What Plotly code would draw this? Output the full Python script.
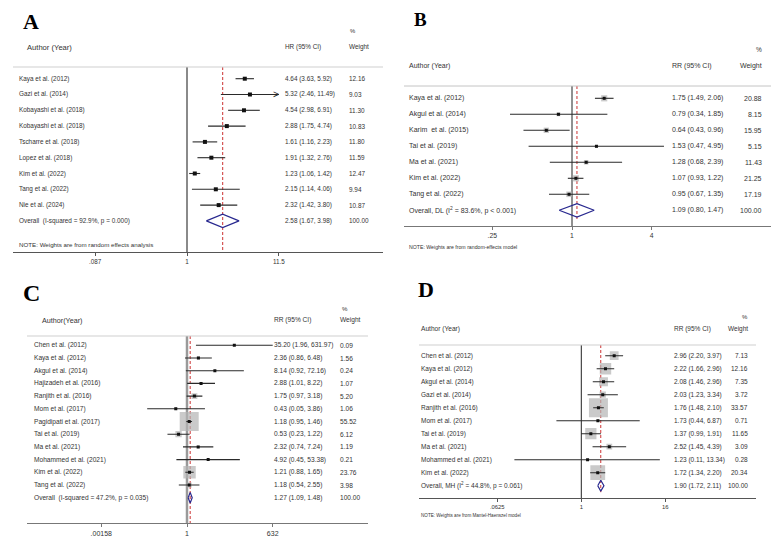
import math
import plotly.graph_objects as go

W, H = 782, 552

# ---------------- DATA ----------------
a_studies = ["Kaya et al. (2012)", "Gazi et al. (2014)", "Kobayashi et al. (2018)", "Kobayashi et al. (2018)",
             "Tscharre et al. (2018)", "Lopez et al. (2018)", "Kim et al. (2022)", "Tang et al. (2022)", "Nie et al. (2024)"]
a_est = [4.64, 5.32, 4.54, 2.88, 1.61, 1.91, 1.23, 2.15, 2.32]
a_lo = [3.63, 2.46, 2.98, 1.75, 1.16, 1.32, 1.06, 1.14, 1.42]
a_hi = [5.92, 11.49, 6.91, 4.74, 2.23, 2.76, 1.42, 4.06, 3.80]
a_wt = [12.16, 9.03, 11.30, 10.83, 11.80, 11.59, 12.47, 9.94, 10.87]
a_overall = [2.58, 1.67, 3.98]
a_overall_label = "Overall  (I-squared = 92.9%, p = 0.000)"
a_ticks = [0.087, 1, 11.5]
a_ticktext = [".087", "1", "11.5"]

b_studies = ["Kaya et al. (2012)", "Akgul et al. (2014)", "Karim  et al. (2015)", "Tai et al. (2019)",
             "Ma et al. (2021)", "Kim et al. (2022)", "Tang et al. (2022)"]
b_est = [1.75, 0.79, 0.64, 1.53, 1.28, 1.07, 0.95]
b_lo = [1.49, 0.34, 0.43, 0.47, 0.68, 0.93, 0.67]
b_hi = [2.06, 1.85, 0.96, 4.95, 2.39, 1.22, 1.35]
b_wt = [20.88, 8.15, 15.95, 5.15, 11.43, 21.25, 17.19]
b_overall = [1.09, 0.80, 1.47]
b_overall_label = "Overall, DL (I<sup>2</sup> = 83.6%, p < 0.001)"
b_ticks = [0.25, 1, 4]
b_ticktext = [".25", "1", "4"]

c_studies = ["Chen et al. (2012)", "Kaya et al. (2012)", "Akgul et al. (2014)", "Hajizadeh et al. (2016)",
             "Ranjith et al. (2016)", "Mom et al. (2017)", "Pagidipati et al. (2017)", "Tai et al. (2019)",
             "Ma et al. (2021)", "Mohammed et al. (2021)", "Kim et al. (2022)", "Tang et al. (2022)"]
c_est = [35.20, 2.36, 8.14, 2.88, 1.75, 0.43, 1.18, 0.53, 2.32, 4.92, 1.21, 1.18]
c_lo = [1.96, 0.86, 0.92, 1.01, 0.97, 0.05, 0.95, 0.23, 0.74, 0.45, 0.88, 0.54]
c_hi = [631.97, 6.48, 72.16, 8.22, 3.18, 3.86, 1.46, 1.22, 7.24, 53.38, 1.65, 2.55]
c_wt = [0.09, 1.56, 0.24, 1.07, 5.20, 1.06, 55.52, 6.12, 1.19, 0.21, 23.76, 3.98]
c_overall = [1.27, 1.09, 1.48]
c_overall_label = "Overall  (I-squared = 47.2%, p = 0.035)"
c_ticks = [0.00158, 1, 632]
c_ticktext = [".00158", "1", "632"]

d_studies = ["Chen et al. (2012)", "Kaya et al. (2012)", "Akgul et al. (2014)", "Gazi et al. (2014)",
             "Ranjith et al. (2016)", "Mom et al. (2017)", "Tai et al. (2019)", "Ma et al. (2021)",
             "Mohammed et al. (2021)", "Kim et al. (2022)"]
d_est = [2.96, 2.22, 2.08, 2.03, 1.76, 1.73, 1.37, 2.52, 1.23, 1.72]
d_lo = [2.20, 1.66, 1.46, 1.23, 1.48, 0.44, 0.99, 1.45, 0.11, 1.34]
d_hi = [3.97, 2.96, 2.96, 3.34, 2.10, 6.87, 1.91, 4.39, 13.34, 2.20]
d_wt = [7.13, 12.16, 7.35, 3.72, 33.57, 0.71, 11.65, 3.09, 0.28, 20.34]
d_overall = [1.90, 1.72, 2.11]
d_overall_label = "Overall, MH (I<sup>2</sup> = 44.8%, p = 0.061)"
d_ticks = [0.0625, 1, 16]
d_ticktext = [".0625", "1", "16"]

# ---------------- LAYOUT SPECS ----------------
SANS = "Liberation Sans, Arial, sans-serif"
SERIF = "Liberation Serif, Times New Roman, serif"
TXT = "#333333"

panels = [
    dict(key="A", xa="x", ya="y", studies=a_studies, est=a_est, lo=a_lo, hi=a_hi, wt=a_wt, ov=a_overall,
         ovlab=a_overall_label, ticks=a_ticks, ticktext=a_ticktext, eff="HR (95% CI)", author="Author (Year)",
         pxl=13, pxr=383, px1=187, ppl=86.7, top=67, bot=252, row0=78.7, step=15.8,
         name_x=17, ci_x=283, wt_x=347, wt_align="left", hdr_y=47, pct_y=31, pct_x=348, author_x=25,
         letter_x=21, letter_y=22, letter_size=22, fs=6.4, hfs=7.6, tfs=6.3,
         note="NOTE: Weights are from random effects analysis", note_x=17, note_y=245, note_fs=6.2,
         topcol="#cfcfcf", axcol="#555555", vcol="#8a8a8a", vw=2, box_k=0, pt=4, dash_end="bot"),
    dict(key="B", xa="x2", ya="y2", studies=b_studies, est=b_est, lo=b_lo, hi=b_hi, wt=b_wt, ov=b_overall,
         ovlab=b_overall_label, ticks=b_ticks, ticktext=b_ticktext, eff="RR (95% CI)", author="Author (Year)",
         pxl=404, pxr=771, px1=572, ppl=132.4, top=86, bot=226, row0=98.3, step=16.0,
         name_x=407, ci_x=670, wt_x=764, wt_align="right", hdr_y=66, pct_y=50, pct_x=764, author_x=407,
         letter_x=412, letter_y=19, letter_size=19, fs=7.0, hfs=7.0, tfs=6.8,
         note="NOTE: Weights are from random-effects model", note_x=407, note_y=247, note_fs=5.2,
         topcol="#c4c4c4", axcol="#777777", vcol="#222222", vw=1, box_k=1.35, pt=3, dash_end=0.55),
    dict(key="C", xa="x3", ya="y3", studies=c_studies, est=c_est, lo=c_lo, hi=c_hi, wt=c_wt, ov=c_overall,
         ovlab=c_overall_label, ticks=c_ticks, ticktext=c_ticktext, eff="RR (95% CI)", author="Author(Year)",
         pxl=27, pxr=368, px1=187, ppl=30.6, top=336, bot=523.3, row0=345.3, step=12.7,
         name_x=32, ci_x=272, wt_x=338, wt_align="left", hdr_y=320, pct_y=308, pct_x=340, author_x=40,
         letter_x=21, letter_y=293, letter_size=24, fs=6.6, hfs=7.2, tfs=7.0,
         note=None, note_x=0, note_y=0, note_fs=6,
         topcol="#cfcfcf", axcol="#777777", vcol="#9a9a9a", vw=2.5, box_k=2.55, pt=3, dash_end="bot"),
    dict(key="D", xa="x4", ya="y4", studies=d_studies, est=d_est, lo=d_lo, hi=d_hi, wt=d_wt, ov=d_overall,
         ovlab=d_overall_label, ticks=d_ticks, ticktext=d_ticktext, eff="RR (95% CI)", author="Author (Year)",
         pxl=419, pxr=756, px1=581.3, ppl=69.8, top=345, bot=498.3, row0=355.7, step=13.0,
         name_x=419, ci_x=672, wt_x=750, wt_align="right", hdr_y=329, pct_y=317, pct_x=750, author_x=419,
         letter_x=416, letter_y=289, letter_size=22, fs=6.5, hfs=6.6, tfs=5.9,
         note="NOTE: Weights are from Mantel-Haenszel model", note_x=419, note_y=515, note_fs=4.6,
         topcol="#cfcfcf", axcol="#555555", vcol="#222222", vw=1, box_k=3.28, pt=3, dash_end=0.5),
]

fig = go.Figure()
annotations = []
shapes = []


def py(p):
    return 1 - p / H


def px(p):
    return p / W


for P in panels:
    xa, ya = P["xa"], P["ya"]
    xref = xa
    yref = ya
    n = len(P["studies"])
    y_top = (P["row0"] - P["top"]) / P["step"]
    y_bot = -(P["bot"] - P["row0"]) / P["step"]
    rows = [-i for i in range(n)]
    y_ov = -n

    # axes
    xr0 = -(P["px1"] - P["pxl"]) / P["ppl"]
    xr1 = (P["pxr"] - P["px1"]) / P["ppl"]
    axname = "xaxis" if xa == "x" else "xaxis" + xa[1:]
    ayname = "yaxis" if ya == "y" else "yaxis" + ya[1:]
    fig.layout[axname] = dict(type="log", domain=[px(P["pxl"]), px(P["pxr"])], range=[xr0, xr1],
                              anchor=ya, tickvals=P["ticks"], ticktext=P["ticktext"], showgrid=False,
                              zeroline=False, showline=True, linecolor=P["axcol"], linewidth=1,
                              ticks="outside", ticklen=3, tickcolor=P["axcol"], tickwidth=1,
                              tickfont=dict(family=SANS, size=P["tfs"], color=TXT), fixedrange=True)
    fig.layout[ayname] = dict(domain=[py(P["bot"]), py(P["top"])], range=[y_bot, y_top], anchor=xa,
                              visible=False, fixedrange=True)

    # top rule
    shapes.append(dict(type="line", xref=f"{xa} domain", yref="paper", x0=0, x1=1,
                       y0=py(P["top"]), y1=py(P["top"]), line=dict(color=P["topcol"], width=1)))

    # null line at 1
    fig.add_trace(go.Scatter(x=[1, 1], y=[y_top, y_bot], mode="lines", xaxis=xa, yaxis=ya,
                             line=dict(color=P["vcol"], width=P["vw"]), hoverinfo="skip", showlegend=False))

    # overall dashed line
    d_end = y_bot if P["dash_end"] == "bot" else y_ov - P["dash_end"]
    fig.add_trace(go.Scatter(x=[P["ov"][0], P["ov"][0]], y=[y_top, d_end], mode="lines", xaxis=xa, yaxis=ya,
                             line=dict(color="#cc3333", width=1, dash="3px,2px"), hoverinfo="skip",
                             showlegend=False))

    # weight boxes
    if P["box_k"] > 0:
        fig.add_trace(go.Scatter(x=P["est"], y=rows, mode="markers", xaxis=xa, yaxis=ya,
                                 marker=dict(symbol="square", color="#b4b4b4",
                                             size=[P["box_k"] * math.sqrt(w) for w in P["wt"]],
                                             line=dict(width=0)),
                                 hoverinfo="skip", showlegend=False))

    # CI lines
    xs, ys = [], []
    xmax = 10 ** xr1
    for lo, hi, r in zip(P["lo"], P["hi"], rows):
        xs += [lo, hi, None]
        ys += [r, r, None]
    fig.add_trace(go.Scatter(x=xs, y=ys, mode="lines", xaxis=xa, yaxis=ya,
                             line=dict(color="#2a2a2a", width=1.1), hoverinfo="skip", showlegend=False))

    # point estimates
    fig.add_trace(go.Scatter(x=P["est"], y=rows, mode="markers", xaxis=xa, yaxis=ya,
                             marker=dict(symbol="square", color="#111111", size=P["pt"], line=dict(width=0)),
                             hoverinfo="skip", showlegend=False))

    # overall diamond
    est, lo, hi = P["ov"]
    h = 0.42
    fig.add_trace(go.Scatter(x=[lo, est, hi, est, lo], y=[y_ov, y_ov + h, y_ov, y_ov - h, y_ov],
                             mode="lines", xaxis=xa, yaxis=ya, line=dict(color="#28288f", width=1.2),
                             hoverinfo="skip", showlegend=False))

    # row texts
    labels = P["studies"] + [P["ovlab"]]
    cis = [f"{e:.2f} ({l:.2f}, {u:.2f})" for e, l, u in zip(P["est"], P["lo"], P["hi"])] + \
          [f"{P['ov'][0]:.2f} ({P['ov'][1]:.2f}, {P['ov'][2]:.2f})"]
    wts = [f"{w:.2f}" for w in P["wt"]] + ["100.00"]
    for i, (lab, ci, wt) in enumerate(zip(labels, cis, wts)):
        yy = -i
        annotations.append(dict(text=lab, xref="paper", yref=yref, x=px(P["name_x"]), y=yy, xanchor="left",
                                yanchor="middle", showarrow=False, font=dict(family=SANS, size=P["fs"], color=TXT)))
        annotations.append(dict(text=ci, xref="paper", yref=yref, x=px(P["ci_x"]), y=yy, xanchor="left",
                                yanchor="middle", showarrow=False, font=dict(family=SANS, size=P["fs"], color=TXT)))
        annotations.append(dict(text=wt, xref="paper", yref=yref, x=px(P["wt_x"]), y=yy,
                                xanchor=P["wt_align"], yanchor="middle", showarrow=False,
                                font=dict(family=SANS, size=P["fs"], color=TXT)))

    # arrow for clipped CI
    for hi_v, r in zip(P["hi"], rows):
        if hi_v >= 11.4 and P["key"] == "A":
            annotations.append(dict(text="&gt;", xref=xref, yref=yref, x=math.log10(hi_v), y=r,
                                    xanchor="right", yanchor="middle", showarrow=False, xshift=2,
                                    font=dict(family=SANS, size=10, color="#2a2a2a")))

    # headers
    annotations.append(dict(text=P["author"], xref="paper", yref="paper", x=px(P["author_x"]), y=py(P["hdr_y"]),
                            xanchor="left", yanchor="middle", showarrow=False,
                            font=dict(family=SANS, size=P["hfs"], color=TXT)))
    annotations.append(dict(text=P["eff"], xref="paper", yref="paper", x=px(P["ci_x"]), y=py(P["hdr_y"]),
                            xanchor="left", yanchor="middle", showarrow=False,
                            font=dict(family=SANS, size=P["fs"], color=TXT)))
    annotations.append(dict(text="Weight", xref="paper", yref="paper", x=px(P["wt_x"]), y=py(P["hdr_y"]),
                            xanchor=P["wt_align"], yanchor="middle", showarrow=False,
                            font=dict(family=SANS, size=P["fs"], color=TXT)))
    annotations.append(dict(text="%", xref="paper", yref="paper", x=px(P["pct_x"]), y=py(P["pct_y"]),
                            xanchor=P["wt_align"], yanchor="middle", showarrow=False,
                            font=dict(family=SANS, size=P["fs"] - 0.5, color=TXT)))
    # letter
    annotations.append(dict(text=f"<b>{P['key']}</b>", xref="paper", yref="paper", x=px(P["letter_x"]),
                            y=py(P["letter_y"]), xanchor="left", yanchor="middle", showarrow=False,
                            font=dict(family=SERIF, size=P["letter_size"], color="#000000")))
    # note
    if P["note"]:
        annotations.append(dict(text=P["note"], xref="paper", yref="paper", x=px(P["note_x"]), y=py(P["note_y"]),
                                xanchor="left", yanchor="middle", showarrow=False,
                                font=dict(family=SANS, size=P["note_fs"], color=TXT)))

fig.update_layout(width=W, height=H, margin=dict(l=0, r=0, t=0, b=0), paper_bgcolor="white",
                  plot_bgcolor="rgba(0,0,0,0)", showlegend=False, annotations=annotations, shapes=shapes)

fig.write_html("out.html")
